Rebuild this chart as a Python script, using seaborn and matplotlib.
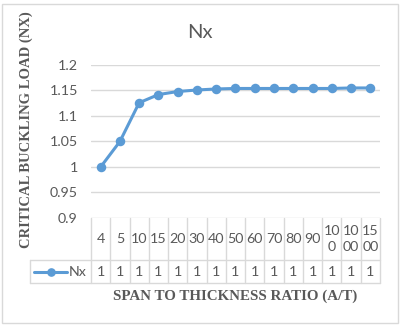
import matplotlib
matplotlib.use("Agg")
import matplotlib.pyplot as plt
import matplotlib.transforms as mtransforms
from matplotlib.lines import Line2D
import seaborn as sns
import pandas as pd

# span-to-thickness ratios and the normalised critical buckling load
ratios = ["4", "5", "10", "15", "20", "30", "40", "50", "60", "70", "80", "90", "100", "1000", "1500"]
header_labels = ["4", "5", "10", "15", "20", "30", "40", "50", "60", "70", "80", "90",
                 "10\n0", "10\n00", "15\n00"]
nx_values = [1.000, 1.050, 1.126, 1.142, 1.148, 1.151, 1.153, 1.154, 1.154,
             1.154, 1.154, 1.154, 1.154, 1.155, 1.155]
series_name = "Nx"

df = pd.DataFrame({"ratio": ratios, "load": nx_values})

sns.set_theme(style="white")
plt.rcParams["font.family"] = ["Lato", "DejaVu Sans"]

W, H = 402, 327
fig = plt.figure(figsize=(W / 100, H / 100), dpi=100)

def fx(px):
    return px / W

def fy(py):
    return 1 - py / H

x0, x1, y_top, y_bot = 91, 380, 65, 218
ax = fig.add_axes([fx(x0), fy(y_bot), fx(x1) - fx(x0), fy(y_top) - fy(y_bot)])

blue = "#5B9BD5"
grey_txt = "#595959"
grid_c = "#D9D9D9"
fs = 10.3

sns.pointplot(data=df, x="ratio", y="load", order=ratios, color=blue,
              errorbar=None, markers="o", linestyles="-", ax=ax,
              markersize=5.2, linewidth=2.2)

ax.set_xlim(-0.5, len(ratios) - 0.5)
ax.set_ylim(0.9, 1.2)
ax.set_yticks([0.9, 0.95, 1.0, 1.05, 1.1, 1.15, 1.2])
ax.set_yticklabels(["0.9", "0.95", "1", "1.05", "1.1", "1.15", "1.2"])
ax.tick_params(axis="y", length=0, labelsize=fs, labelcolor=grey_txt, pad=9.5)
ax.set_xticks([])
ax.set_xlabel("")
ax.set_ylabel("")
for s in ax.spines.values():
    s.set_visible(False)
ax.yaxis.grid(True, color=grid_c, linewidth=1)
ax.set_axisbelow(True)

# data table under the plot
tr = mtransforms.blended_transform_factory(ax.transData, fig.transFigure)
row1_bot, row2_bot = 260, 283
n = len(ratios)
for i in range(n + 1):
    xb = i - 0.5
    fig.add_artist(Line2D([xb, xb], [fy(y_bot), fy(row2_bot)], color=grid_c, lw=1, transform=tr))
for yy in (row1_bot, row2_bot):
    fig.add_artist(Line2D([fx(30), fx(x1)], [fy(yy), fy(yy)], color=grid_c, lw=1,
                          transform=fig.transFigure))
fig.add_artist(Line2D([fx(30), fx(30)], [fy(row1_bot), fy(row2_bot)], color=grid_c, lw=1,
                      transform=fig.transFigure))

for i, lab in enumerate(header_labels):
    fig.text(i, fy((y_bot + row1_bot) / 2), lab, transform=tr, ha="center", va="center",
             fontsize=fs, color=grey_txt, linespacing=1.4)
    fig.text(i, fy((row1_bot + row2_bot) / 2), f"{nx_values[i]:.0f}", transform=tr,
             ha="center", va="center", fontsize=fs, color=grey_txt)

# legend key in the table
ly = fy((row1_bot + row2_bot) / 2)
fig.add_artist(Line2D([fx(34), fx(67)], [ly, ly], color=blue, lw=2.2,
                      transform=fig.transFigure))
fig.add_artist(Line2D([fx(50.5)], [ly], color=blue, marker="o", markersize=5.2,
                      transform=fig.transFigure))
fig.text(fx(69), ly, series_name, ha="left", va="center", fontsize=fs, color=grey_txt)

# title and axis titles
fig.text(fx(200), fy(33), series_name, ha="center", va="center", fontsize=14.5, color=grey_txt)
fig.text(fx(235), fy(296), "SPAN TO THICKNESS RATIO (A/T)", ha="center", va="center",
         fontsize=10.8, fontweight="bold", color=grey_txt, family="Liberation Serif")
fig.text(fx(26), fy(130), "CRITICAL BUCKLING LOAD (NX)", ha="center", va="center",
         rotation=90, fontsize=10.5, fontweight="bold", color=grey_txt, family="Liberation Serif")

# chart border
fig.add_artist(plt.Rectangle((fx(2), fy(323)), fx(398) - fx(2), fy(4) - fy(323),
                             fill=False, edgecolor=grid_c, lw=1, transform=fig.transFigure))

fig.savefig("out.png", dpi=100, facecolor="white")
